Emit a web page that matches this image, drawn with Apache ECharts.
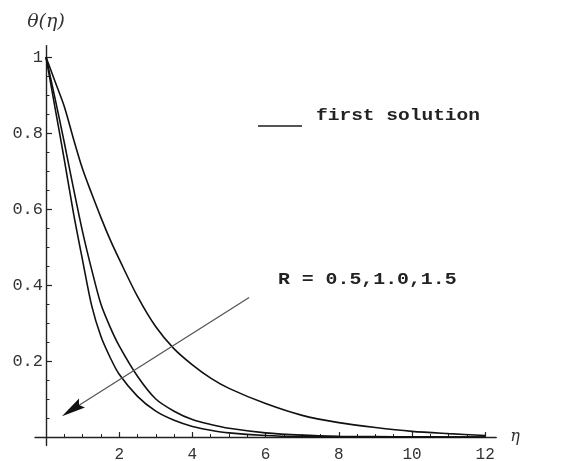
<!DOCTYPE html>
<html>
<head>
<meta charset="utf-8">
<script src="https://cdn.jsdelivr.net/npm/echarts@6/dist/echarts.min.js"></script>
<style>html,body{margin:0;padding:0;background:#fff;}#c{width:567px;height:461px;}</style>
</head>
<body>
<div id="c"></div>
<script>
// eta sample positions
const etaValues = [0, 0.25, 0.5, 0.75, 1, 1.25, 1.5, 1.75, 2, 2.5, 3, 3.5, 4, 4.5, 5, 6, 7, 8, 9, 10, 11, 12];
// theta(eta) for R = 0.5 (outer curve)
const thetaR05 = [1, 0.935, 0.87, 0.785, 0.705, 0.64, 0.578, 0.52, 0.468, 0.37, 0.29, 0.232, 0.19, 0.155, 0.128, 0.088, 0.057, 0.038, 0.025, 0.015, 0.009, 0.004];
// theta(eta) for R = 1.0 (middle curve)
const thetaR10 = [1, 0.89, 0.775, 0.655, 0.54, 0.44, 0.35, 0.29, 0.24, 0.16, 0.1, 0.068, 0.046, 0.033, 0.023, 0.011, 0.005, 0.002, 0.001, 0.0005, 0.0002, 0];
// theta(eta) for R = 1.5 (inner curve)
const thetaR15 = [1, 0.865, 0.73, 0.59, 0.465, 0.345, 0.265, 0.21, 0.165, 0.107, 0.068, 0.044, 0.028, 0.018, 0.011, 0.004, 0.001, 0.0004, 0.0001, 0, 0, 0];
// tick labels
const xTickLabels = [2, 4, 6, 8, 10, 12];
const yTickLabels = [0.2, 0.4, 0.6, 0.8, 1];
// arrow annotation in data units: shaft start, head base, head centre
const arrowStart = [5.55, 0.367];
const arrowHeadFrom = [0.9, 0.084];
const arrowEnd = [0.71, 0.072];
const legendText = 'first solution';
const annotationText = 'R = 0.5,1.0,1.5';

const xMinorTicks = [];
for (let v = 0.5; v < 12.01; v += 0.5) { if (Math.abs(v / 2 - Math.round(v / 2)) > 1e-6) xMinorTicks.push(+v.toFixed(2)); }
const yMinorTicks = [];
for (let v = 0.05; v < 1.001; v += 0.05) { const r = +v.toFixed(2); if (Math.abs(r / 0.2 - Math.round(r / 0.2)) > 1e-6) yMinorTicks.push(r); }

const mono = 'Liberation Mono';
const chart = echarts.init(document.getElementById('c'));
const xMin = -0.3, xMax = 12.3, yMin = -0.022, yMax = 1.03;
const lineCol = '#111';
function mk(arr) { return etaValues.map((x, i) => [x, arr[i]]); }

const baseX = {
  type: 'value', min: xMin, max: xMax, position: 'bottom', gridIndex: 0,
  splitLine: { show: false },
  axisLine: { onZero: true, onZeroAxisIndex: 0, lineStyle: { color: '#222', width: 1.4 } }
};
const baseY = {
  type: 'value', min: yMin, max: yMax, position: 'left', gridIndex: 0,
  splitLine: { show: false },
  axisLine: { onZero: true, onZeroAxisIndex: 0, lineStyle: { color: '#222', width: 1.4 } }
};
const lineSeries = (name, arr) => ({
  name, type: 'line', xAxisIndex: 0, yAxisIndex: 0, data: mk(arr), smooth: 0.3,
  showSymbol: false, symbol: 'none', lineStyle: { color: lineCol, width: 1.6 }, itemStyle: { color: lineCol }
});

const headPath = 'path://M0,0 M20,20 M10,0 L14.5,20 L10,17 L5.5,20 Z';
const s3 = lineSeries('R = 1.5', thetaR15);
s3.markLine = {
  silent: true, symbol: 'none', symbolSize: 24,
  label: { show: false },
  lineStyle: { color: '#555', width: 1.3, type: 'solid' },
  data: [
    [{ coord: arrowStart }, { coord: arrowEnd }],
    [{ coord: arrowHeadFrom, lineStyle: { color: '#111', width: 1.3, type: 'solid' } },
     { coord: arrowEnd, symbol: headPath, symbolSize: 24 }]
  ]
};

chart.setOption({
  animation: false,
  backgroundColor: '#fff',
  grid: { left: 35, top: 45.6, width: 461.2, height: 399.8, containLabel: false, outerBoundsMode: 'none' },
  xAxis: [
    Object.assign({}, baseX, {
      name: 'η', nameLocation: 'end', nameGap: 14,
      nameTextStyle: { fontFamily: 'DejaVu Serif', fontStyle: 'italic', fontSize: 16, color: '#333', verticalAlign: 'middle' },
      axisTick: { show: true, inside: true, length: 5, customValues: xTickLabels, lineStyle: { color: '#222', width: 1.2 } },
      axisLabel: { show: true, customValues: xTickLabels, margin: 1, fontFamily: mono, fontSize: 16, color: '#333' }
    }),
    Object.assign({}, baseX, {
      axisLine: { show: false, onZero: true, onZeroAxisIndex: 0 },
      axisTick: { show: true, inside: true, length: 3, customValues: xMinorTicks, lineStyle: { color: '#222', width: 1 } },
      axisLabel: { show: false }
    })
  ],
  yAxis: [
    Object.assign({}, baseY, {
      name: 'θ(η)', nameLocation: 'end', nameGap: 14,
      nameTextStyle: { fontFamily: 'DejaVu Serif', fontStyle: 'italic', fontSize: 19, color: '#333', align: 'center' },
      axisTick: { show: true, inside: true, length: 6, customValues: yTickLabels, lineStyle: { color: '#222', width: 1.2 } },
      axisLabel: { show: true, customValues: yTickLabels, margin: -8, fontFamily: mono, fontSize: 17, color: '#333',
        formatter: v => (Math.abs(v - 1) < 1e-9 ? '1' : v.toFixed(1)) }
    }),
    Object.assign({}, baseY, {
      axisLine: { show: false, onZero: true, onZeroAxisIndex: 0 },
      axisTick: { show: true, inside: true, length: 3.5, customValues: yMinorTicks, lineStyle: { color: '#222', width: 1 } },
      axisLabel: { show: false }
    })
  ],
  series: [lineSeries('R = 0.5', thetaR05), lineSeries('R = 1.0', thetaR10), s3],
  graphic: [
    { type: 'rect', left: 258, top: 125, shape: { width: 44, height: 2 }, style: { fill: '#555' } },
    { type: 'text', x: 316, y: 116, scaleX: 1.22, style: { text: legendText, fontFamily: mono, fontSize: 16, fontWeight: 'bold', fill: '#222', verticalAlign: 'middle' } },
    { type: 'text', x: 278, y: 280, scaleX: 1.24, style: { text: annotationText, fontFamily: mono, fontSize: 16, fontWeight: 'bold', fill: '#222', verticalAlign: 'middle' } }
  ]
});
</script>
</body>
</html>
